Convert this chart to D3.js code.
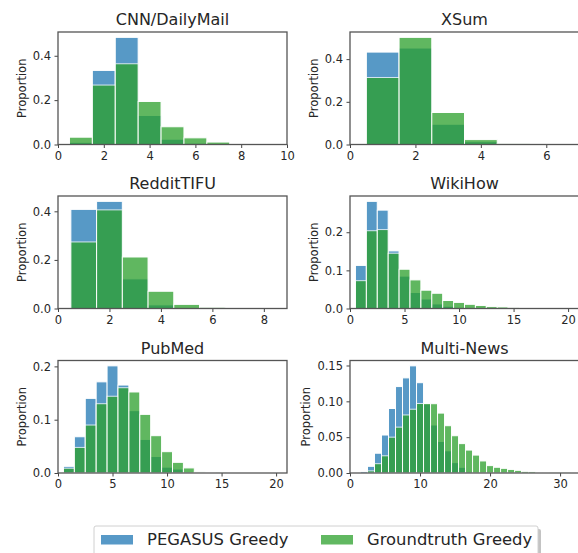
<!DOCTYPE html>
<html>
<head>
<meta charset="utf-8">
<script src="https://cdn.jsdelivr.net/npm/d3@7"></script>
<style>
  body { margin: 0; background: #fff; }
  text { font-family: "DejaVu Sans", sans-serif; fill: #262626; }
</style>
</head>
<body>
<script>
// data: proportion per bin, bins centred on 1, 2, 3, ...
const titles = ["CNN/DailyMail", "XSum", "RedditTIFU", "WikiHow", "PubMed", "Multi-News"]
const seriesNames = ["PEGASUS Greedy", "Groundtruth Greedy"]

const cnnPegasus = [0.010, 0.334, 0.483, 0.131, 0.024, 0.006, 0.001, 0, 0]
const cnnGround  = [0.033, 0.268, 0.364, 0.194, 0.080, 0.030, 0.011, 0.002, 0.001]

const xsumPegasus = [0.433, 0.452, 0.095, 0.013, 0.002, 0]
const xsumGround  = [0.314, 0.502, 0.150, 0.023, 0.003, 0.001]

const redditPegasus = [0.408, 0.441, 0.122, 0.015, 0.002, 0.001, 0, 0]
const redditGround  = [0.274, 0.406, 0.212, 0.071, 0.017, 0.005, 0.002, 0.001]

const wikiPegasus = [0.113, 0.281, 0.258, 0.151, 0.085, 0.042, 0.025, 0.012, 0.006, 0.003,
                     0.002, 0.001, 0.001, 0, 0, 0, 0, 0, 0, 0]
const wikiGround  = [0.073, 0.204, 0.207, 0.145, 0.103, 0.075, 0.048, 0.040, 0.021, 0.016,
                     0.011, 0.008, 0.005, 0.004, 0.002, 0.001, 0.0005, 0, 0, 0]

const pubmedPegasus = [0.0125, 0.068, 0.140, 0.171, 0.201, 0.165, 0.117, 0.063, 0.031, 0.011,
                       0.0075, 0.002, 0.0005, 0, 0, 0, 0, 0, 0, 0]
const pubmedGround  = [0.009, 0.048, 0.090, 0.130, 0.144, 0.160, 0.152, 0.110, 0.070, 0.040,
                       0.020, 0.0095, 0.002, 0.001, 0.0005, 0, 0, 0, 0, 0]

const multiPegasus = [0, 0.002, 0.0093, 0.0276, 0.053, 0.090, 0.1206, 0.1327, 0.1495, 0.126,
                      0.096, 0.067, 0.044, 0.031, 0.0145, 0.008, 0.002, 0.001, 0, 0,
                      0, 0, 0, 0, 0, 0, 0, 0, 0, 0, 0]
const multiGround  = [0, 0, 0.003, 0.013, 0.024, 0.050, 0.064, 0.081, 0.089, 0.097,
                      0.097, 0.0967, 0.0836, 0.066, 0.052, 0.041, 0.032, 0.025, 0.0168, 0.0103,
                      0.008, 0.0065, 0.005, 0.0037, 0.0023, 0.002, 0.001, 0.001, 0.0005, 0.0005, 0.0005]

// tick labels
const xTicks = [[0, 2, 4, 6, 8, 10], [0, 2, 4, 6], [0, 2, 4, 6, 8],
                [0, 5, 10, 15, 20], [0, 5, 10, 15, 20], [0, 10, 20, 30]]
const yTicks = [[0, 0.2, 0.4], [0, 0.2, 0.4], [0, 0.2, 0.4],
                [0, 0.1, 0.2], [0, 0.1, 0.2], [0, 0.05, 0.10, 0.15]]

const panels = [
    {peg: cnnPegasus, gt: cnnGround, xMax: 10, fmt: ".1f"},
    {peg: xsumPegasus, gt: xsumGround, xMax: 7, fmt: ".1f"},
    {peg: redditPegasus, gt: redditGround, xMax: 8.9, fmt: ".1f"},
    {peg: wikiPegasus, gt: wikiGround, xMax: 21, fmt: ".1f"},
    {peg: pubmedPegasus, gt: pubmedGround, xMax: 21, fmt: ".1f"},
    {peg: multiPegasus, gt: multiGround, xMax: 32.7, fmt: ".2f"}
]

const colors = ["#1f77b4", "#2ca02c"]
const pw = 229, ph = 112.5
const lefts = [58, 350]
const tops = [32, 196, 360.5]

const svg = d3.select("body")
    .append("svg")
    .attr("width", 578)
    .attr("height", 553)

panels.forEach(function(p, i) {
    const g = svg.append("g")
        .attr("transform", "translate(" + lefts[i % 2] + "," + tops[Math.floor(i / 2)] + ")")

    const x = d3.scaleLinear().domain([0, p.xMax]).range([0, pw])
    const yMax = 1.05 * d3.max(p.peg.concat(p.gt))
    const y = d3.scaleLinear().domain([0, yMax]).range([ph, 0])

    // bars, PEGASUS first then groundtruth on top
    ;[p.peg, p.gt].forEach(function(vals, s) {
        g.selectAll(".bar" + s)
            .data(vals.map(function(v, k) { return {c: k + 1, v: v} }).filter(function(d) { return d.v > 0 }))
            .enter()
            .append("rect")
                .attr("x", function(d) { return x(d.c - 0.5) })
                .attr("width", function(d) { return x(d.c + 0.5) - x(d.c - 0.5) })
                .attr("y", function(d) { return y(d.v) })
                .attr("height", function(d) { return ph - y(d.v) })
                .attr("fill", colors[s])
                .attr("stroke", "#fff")
                .attr("stroke-width", 1)
                .attr("opacity", 0.75)
    })

    // axes
    const xa = g.append("g")
        .attr("transform", "translate(0," + ph + ")")
        .call(d3.axisBottom(x).tickValues(xTicks[i]).tickFormat(d3.format("d")).tickSize(3.5).tickPadding(3.5))
    const ya = g.append("g")
        .call(d3.axisLeft(y).tickValues(yTicks[i]).tickFormat(d3.format(p.fmt)).tickSize(3.5).tickPadding(3.5))
    ;[xa, ya].forEach(function(a) {
        a.select(".domain").remove()
        a.selectAll("line").attr("stroke", "#444")
        a.selectAll("text").attr("font-size", 11.5).attr("font-family", "DejaVu Sans").attr("fill", "#262626")
    })

    // frame
    g.append("rect")
        .attr("width", pw)
        .attr("height", ph)
        .attr("fill", "none")
        .attr("stroke", "#555")
        .attr("stroke-width", 1.3)

    g.append("text")
        .text(titles[i])
        .attr("x", pw / 2)
        .attr("y", -7)
        .attr("text-anchor", "middle")
        .attr("font-size", 16)

    const bb = ya.node().getBBox()
    g.append("text")
        .text("Proportion")
        .attr("transform", "translate(" + (bb.x - 7) + "," + (ph / 2) + ")rotate(-90)")
        .attr("text-anchor", "middle")
        .attr("font-size", 11.5)
})

// legend with shadow
svg.append("rect")
    .attr("x", 97).attr("y", 529).attr("width", 444).attr("height", 40)
    .attr("rx", 2)
    .attr("fill", "#888").attr("opacity", 0.5)
svg.append("rect")
    .attr("x", 94).attr("y", 526).attr("width", 444).attr("height", 40)
    .attr("rx", 2)
    .attr("fill", "#fff").attr("stroke", "#d0d0d0").attr("stroke-width", 1)

const legendX = [101, 321]
seriesNames.forEach(function(name, s) {
    svg.append("rect")
        .attr("x", legendX[s]).attr("y", 535)
        .attr("width", 32).attr("height", 9.5)
        .attr("fill", colors[s]).attr("opacity", 0.75)
    svg.append("text")
        .text(name)
        .attr("x", legendX[s] + 46)
        .attr("y", 545)
        .attr("font-size", 16.4)
})
</script>
</body>
</html>
